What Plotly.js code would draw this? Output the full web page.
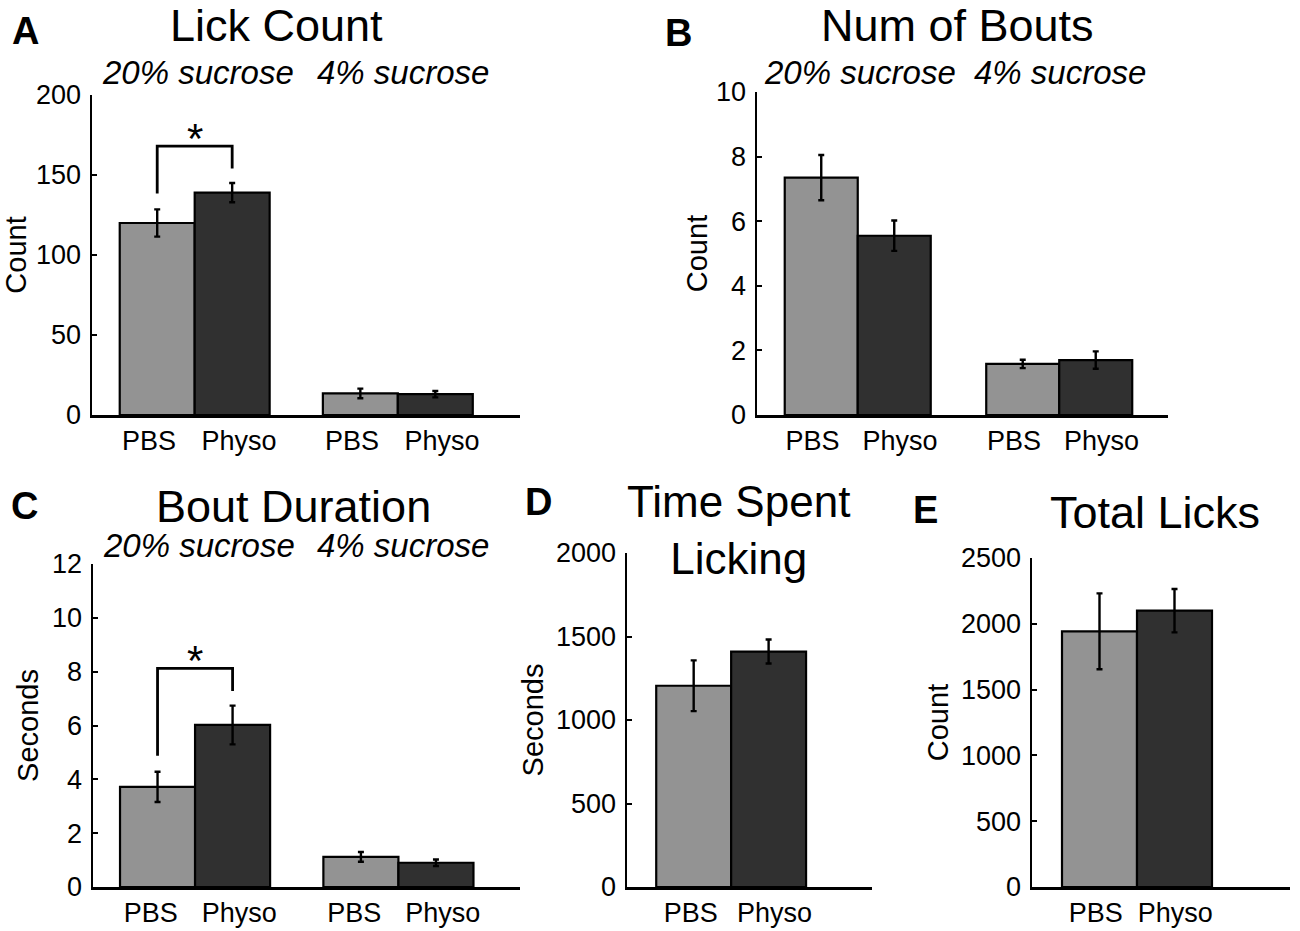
<!DOCTYPE html>
<html>
<head>
<meta charset="utf-8">
<script src="https://cdn.plot.ly/plotly-3.0.1.min.js"></script>
<style>html,body{margin:0;padding:0;background:#fff;}#chart{width:1300px;height:931px;}</style>
</head>
<body>
<div id="chart"></div>
<script>
// ---------------- data ----------------
const groupLabels = ['PBS', 'Physo', 'PBS', 'Physo'];
const pairLabels = ['PBS', 'Physo'];
const sucroseLabels = ['20% sucrose', '4% sucrose'];

const lickCountMean = [120, 139, 13.5, 13];
const lickCountSem  = [8.5, 6, 3, 2];

const numBoutsMean = [7.35, 5.55, 1.58, 1.7];
const numBoutsSem  = [0.7, 0.47, 0.13, 0.27];

const boutDurMean = [3.72, 6.02, 1.12, 0.9];
const boutDurSem  = [0.56, 0.72, 0.18, 0.12];

const timeSpentMean = [1205, 1410];
const timeSpentSem  = [152, 72];

const totalLicksMean = [1943, 2100];
const totalLicksSem  = [288, 165];

// ---------------- styling / layout helpers ----------------
const FONT = 'Liberation Sans, Arial, Helvetica, sans-serif';
const LIGHT = '#939393', DARK = '#303030';
const W = 1300, H = 931;
const px = v => v / W;
const py = v => 1 - v / H;

// panel geometry (pixels)
const geo = {
  A: {x: [92, 520], y: [415, 95], xr: 5.71, pos: [0.87, 1.87, 3.58, 4.58], yr: 200, dt: 50, lw: 3, lo: [-0.11, 0.09]},
  B: {x: [757, 1168], y: [415, 92], xr: 5.63, pos: [0.88, 1.88, 3.64, 4.64], yr: 10, dt: 2, lw: 3, lo: [-0.12, 0.08]},
  C: {x: [93, 520], y: [887, 564], xr: 5.69, pos: [0.86, 1.86, 3.57, 4.57], yr: 12, dt: 2, lw: 3, lo: [-0.09, 0.09]},
  D: {x: [627, 872], y: [887, 553], xr: 3.27, pos: [0.89, 1.89], yr: 2000, dt: 500, lw: 2.5, lo: [-0.04, 0.08]},
  E: {x: [1032, 1290], y: [887, 558], xr: 3.44, pos: [0.9, 1.9], yr: 2500, dt: 500, lw: 2.5, lo: [-0.05, 0.01]}
};

const panels = [
  {key: 'A', ax: '', mean: lickCountMean, sem: lickCountSem, labels: groupLabels, ytitle: 'Count', standoff: 2},
  {key: 'B', ax: '2', mean: numBoutsMean, sem: numBoutsSem, labels: groupLabels, ytitle: 'Count', standoff: 0},
  {key: 'C', ax: '3', mean: boutDurMean, sem: boutDurSem, labels: groupLabels, ytitle: 'Seconds', standoff: 5},
  {key: 'D', ax: '4', mean: timeSpentMean, sem: timeSpentSem, labels: pairLabels, ytitle: 'Seconds', standoff: 4},
  {key: 'E', ax: '5', mean: totalLicksMean, sem: totalLicksSem, labels: pairLabels, ytitle: 'Count', standoff: 4}
];

const data = [];
const layout = {
  width: W, height: H,
  margin: {l: 0, r: 0, t: 0, b: 0},
  paper_bgcolor: '#fff', plot_bgcolor: '#fff',
  showlegend: false,
  font: {family: FONT, color: '#000'},
  annotations: [], shapes: []
};

panels.forEach(p => {
  const g = geo[p.key];
  const colors = p.mean.map((_, i) => i % 2 === 0 ? LIGHT : DARK);
  const labelPos = g.pos.map((v, i) => v + g.lo[i % 2]);
  data.push({
    type: 'bar',
    x: g.pos, y: p.mean,
    width: 1,
    xaxis: 'x' + p.ax, yaxis: 'y' + p.ax,
    marker: {color: colors, line: {color: '#000', width: 2.2}},
    error_y: {type: 'data', array: p.sem, visible: true, color: '#000', thickness: 2.4, width: 3},
    hoverinfo: 'skip'
  });
  layout['xaxis' + p.ax] = {
    domain: [px(g.x[0]), px(g.x[1])], range: [0, g.xr], anchor: 'y' + p.ax,
    showline: true, linecolor: '#000', linewidth: g.lw, ticks: '',
    tickmode: 'array', tickvals: labelPos, ticktext: p.labels,
    tickfont: {size: 27, family: FONT, color: '#000'},
    ticklabelstandoff: 0,
    showgrid: false, zeroline: false, fixedrange: true
  };
  layout['yaxis' + p.ax] = {
    domain: [py(g.y[0]), py(g.y[1])], range: [0, g.yr], anchor: 'x' + p.ax,
    showline: true, linecolor: '#000', linewidth: 2.5,
    ticks: 'inside', ticklen: 5, tickwidth: 2, tickcolor: '#000',
    dtick: g.dt, tick0: 0,
    tickfont: {size: 27, family: FONT, color: '#000'},
    ticklabelstandoff: 3,
    title: {text: p.ytitle, font: {size: 29, family: FONT, color: '#000'}, standoff: p.standoff},
    showgrid: false, zeroline: false, fixedrange: true, automargin: false
  };
});

// significance brackets (A and C): computed from data
function bracket(panel, mean, sem, yr) {
  const xs = geo[panel.key].pos;
  const endL = mean[0] + sem[0] + 0.05 * yr;
  const endR = mean[1] + sem[1] + 0.045 * yr;
  const top = Math.max(endL, endR) + 0.07 * yr;
  layout.shapes.push({
    type: 'path', xref: 'x' + panel.ax, yref: 'y' + panel.ax,
    path: `M ${xs[0]},${endL} L ${xs[0]},${top} L ${xs[1]},${top} L ${xs[1]},${endR}`,
    line: {color: '#000', width: 2.8}
  });
  layout.annotations.push({
    xref: 'x' + panel.ax, yref: 'y' + panel.ax,
    x: (xs[0] + xs[1]) / 2, y: top, text: '*', showarrow: false,
    yanchor: 'middle', yshift: 8,
    font: {size: 42, family: FONT, color: '#000'}
  });
}
bracket(panels[0], lickCountMean, lickCountSem, geo.A.yr);
bracket(panels[2], boutDurMean, boutDurSem, geo.C.yr);

// titles, panel letters, subtitles
function ann(text, x, y, size, extra) {
  layout.annotations.push(Object.assign({
    xref: 'paper', yref: 'paper', x: px(x), y: py(y), text: text,
    showarrow: false, xanchor: 'center', yanchor: 'middle',
    font: {size: size, family: FONT, color: '#000'}
  }, extra || {}));
}
ann('Lick Count', 276, 26, 45);
ann('Num of Bouts', 957, 26, 45);
ann('Bout Duration', 293, 507, 45);
ann('Time Spent<br>Licking', 738, 530, 44);
ann('Total Licks', 1155, 512, 45);

ann('<b>A</b>', 25, 31, 38);
ann('<b>B</b>', 678, 33, 38);
ann('<b>C</b>', 24, 506, 38);
ann('<b>D</b>', 538, 502, 38);
ann('<b>E</b>', 925, 510, 38);

const subCenters = {A: [198, 403, 72], B: [860, 1060, 72], C: [199, 403, 545]};
Object.keys(subCenters).forEach(k => {
  const c = subCenters[k];
  ann('<i>' + sucroseLabels[0] + '</i>', c[0], c[2], 33);
  ann('<i>' + sucroseLabels[1] + '</i>', c[1], c[2], 33);
});

Plotly.newPlot('chart', data, layout, {staticPlot: true, displayModeBar: false});
</script>
</body>
</html>
